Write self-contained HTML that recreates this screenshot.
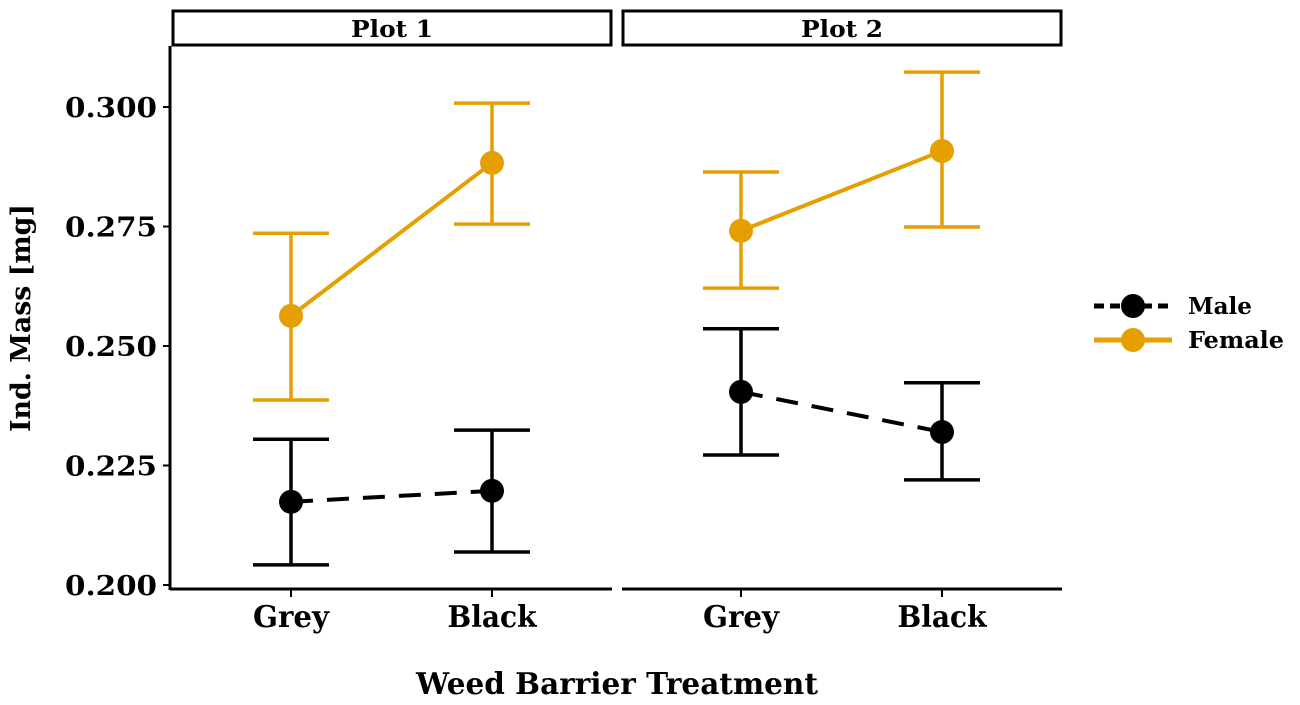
<!DOCTYPE html>
<html><head><meta charset="utf-8"><style>
body{margin:0;background:#fff;}
svg text{font-family:"DejaVu Serif","Liberation Serif",serif;font-weight:bold;fill:#000;}
</style></head><body>
<svg id="chart" width="1300" height="700"></svg>
<script>
const panels = ["Plot 1","Plot 2"];
const categories = ["Grey","Black"];
const maleMean = [[0.2174,0.2197],[0.2404,0.2320]];
const maleLow = [[0.2042,0.2069],[0.2272,0.2220]];
const maleHigh = [[0.2305,0.2324],[0.2536,0.2423]];
const femaleMean = [[0.2563,0.2883],[0.2741,0.2908]];
const femaleLow = [[0.2387,0.2755],[0.2621,0.2749]];
const femaleHigh = [[0.2736,0.3008],[0.2864,0.3073]];
const yTicks = [0.200,0.225,0.250,0.275,0.300];
const yTickLabels = ["0.200","0.225","0.250","0.275","0.300"];

const svg = document.getElementById('chart');
const NS = 'http://www.w3.org/2000/svg';
function mk(tag, attrs, parent){const e=document.createElementNS(NS,tag);for(const k in attrs)e.setAttribute(k,attrs[k]);(parent||svg).appendChild(e);return e;}
const y = v => 585 - (v-0.2)*4780;
const panelX0 = [172,622], panelW = 440;
const x = (p,i) => panelX0[p] + 119 + i*201;
const fit = {lengthAdjust:'spacingAndGlyphs'};

let ax = mk('line',{x1:170,y1:46,x2:170,y2:590,stroke:'#000','stroke-width':3});


yTicks.forEach((t,i)=>{
  const tk = mk('line',{x1:163,x2:170,y1:y(t),y2:y(t),stroke:'#000','stroke-width':2});
  
  
  const tl = mk('text',{x:65,y:y(t)+10,'font-size':27,textLength:92,...fit});
  tl.textContent = yTickLabels[i];
  
  
});
const yt = mk('text',{x:0,y:0,'text-anchor':'middle','font-size':27,textLength:228,...fit,transform:'translate(30,318) rotate(-90)'});
yt.textContent='Ind. Mass [mg]';


const xt = mk('text',{x:617,y:694,'text-anchor':'middle','font-size':30,textLength:402,...fit});
xt.textContent='Weed Barrier Treatment';



const orange = '#E69F00';
const catW = [76,89];
panels.forEach((pn,p)=>{
  const x0 = panelX0[p];
  const strip = mk('rect',{x:x0+1,y:11,width:panelW-2,height:34,fill:'#fff',stroke:'#000','stroke-width':3});
  
  
  const st = mk('text',{x:x0+panelW/2,y:37,'text-anchor':'middle','font-size':23,textLength:82,...fit});
  st.textContent = pn;
  
  
  const bl = mk('line',{x1:x0-(p?0:2),x2:x0+panelW,y1:589,y2:589,stroke:'#000','stroke-width':3});
  
  
  categories.forEach((c,i)=>{
    const tk = mk('line',{x1:x(p,i),x2:x(p,i),y1:589,y2:597,stroke:'#000','stroke-width':2});
    
    
    const tl = mk('text',{x:x(p,i),y:627,'text-anchor':'middle','font-size':30,textLength:catW[i],...fit});
    tl.textContent = c;
    
    
  });
  const series = [
    {m:maleMean,lo:maleLow,hi:maleHigh,col:'#000',dash:'22,14',name:'male'},
    {m:femaleMean,lo:femaleLow,hi:femaleHigh,col:orange,dash:'',name:'female'}];
  series.forEach(s=>{
    const ln = mk('line',{x1:x(p,0),y1:y(s.m[p][0]),x2:x(p,1),y2:y(s.m[p][1]),stroke:s.col,'stroke-width':4,'stroke-dasharray':s.dash});
    
    
    categories.forEach((c,i)=>{
      const cx=x(p,i);
      const g = mk('g',{});
      
      
      mk('line',{x1:cx,x2:cx,y1:y(s.lo[p][i]),y2:y(s.hi[p][i]),stroke:s.col,'stroke-width':3.5},g);
      mk('line',{x1:cx-38,x2:cx+38,y1:y(s.lo[p][i]),y2:y(s.lo[p][i]),stroke:s.col,'stroke-width':3.5},g);
      mk('line',{x1:cx-38,x2:cx+38,y1:y(s.hi[p][i]),y2:y(s.hi[p][i]),stroke:s.col,'stroke-width':3.5},g);
      const pt = mk('circle',{cx:cx,cy:y(s.m[p][i]),r:12,fill:s.col});
      
      
    });
  });
});

[['Male','#000','10,6',306,64],['Female',orange,'',340,96]].forEach(l=>{
  const g = mk('g',{});
  
  
  mk('line',{x1:1094,x2:1172,y1:l[3],y2:l[3],stroke:l[1],'stroke-width':5,'stroke-dasharray':l[2]},g);
  mk('circle',{cx:1133,cy:l[3],r:12,fill:l[1]},g);
  const t = mk('text',{x:1188,y:l[3]+8,'font-size':23,textLength:l[4],...fit},g);
  t.textContent=l[0];
});
</script>
</body></html>
